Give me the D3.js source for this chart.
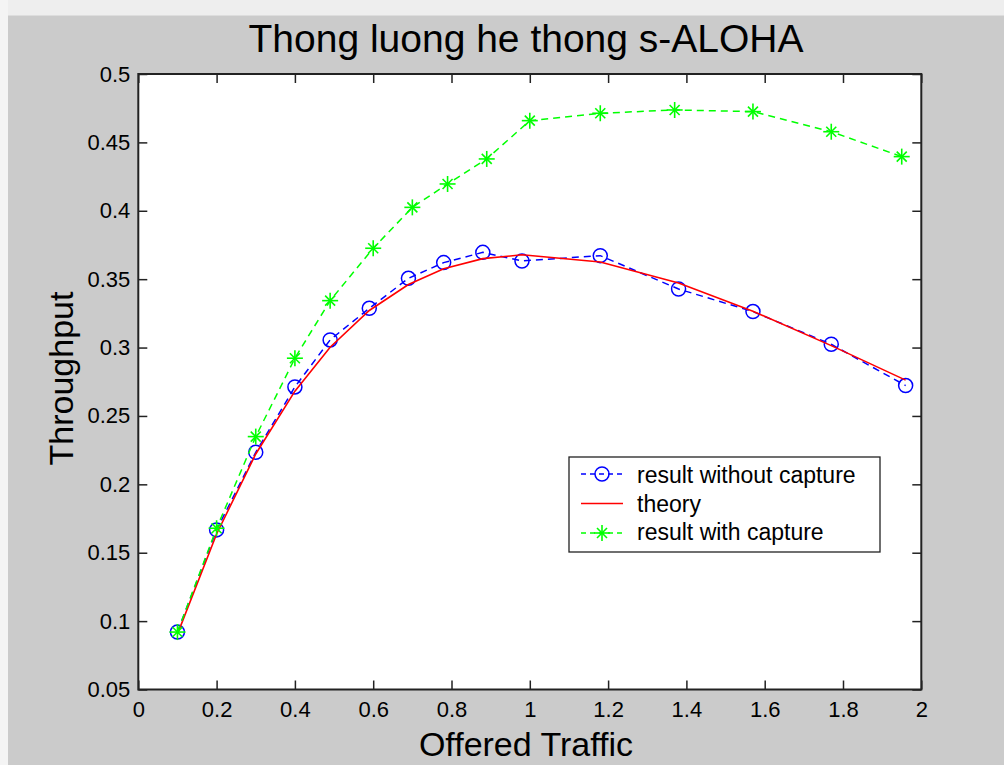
<!DOCTYPE html>
<html>
<head>
<meta charset="utf-8">
<script src="https://cdn.jsdelivr.net/npm/d3@7"></script>
<style>
  html, body { margin: 0; padding: 0; background: #cbcbcb; }
  svg { display: block; }
  text { font-family: "Liberation Sans", Arial, sans-serif; fill: #000; }
</style>
</head>
<body>
<script>
// ---- data ----
const gNoCapture = [0.1, 0.2, 0.3, 0.4, 0.49, 0.59, 0.69, 0.78, 0.88, 0.98, 1.18, 1.38, 1.57, 1.77, 1.96];
const sNoCapture = [0.092, 0.1667, 0.2234, 0.2712, 0.3056, 0.3287, 0.3506, 0.3621, 0.3696, 0.3633, 0.3672, 0.3428, 0.3263, 0.3024, 0.2722];
const gTheory = [0.1, 0.2, 0.3, 0.4, 0.49, 0.59, 0.69, 0.78, 0.88, 0.98, 1.18, 1.38, 1.57, 1.77, 1.96];
const sTheory = [0.0905, 0.1637, 0.2222, 0.2681, 0.3002, 0.3271, 0.3461, 0.3576, 0.3650, 0.3678, 0.3626, 0.3472, 0.3266, 0.3014, 0.2762];
const gCapture = [0.1, 0.2, 0.3, 0.4, 0.49, 0.6, 0.7, 0.79, 0.89, 1.0, 1.18, 1.37, 1.57, 1.77, 1.95];
const sCapture = [0.092, 0.1679, 0.2349, 0.2922, 0.3343, 0.3726, 0.4025, 0.4196, 0.4379, 0.4659, 0.4713, 0.4737, 0.4725, 0.4578, 0.4396];
const xTicks = [0, 0.2, 0.4, 0.6, 0.8, 1, 1.2, 1.4, 1.6, 1.8, 2];
const xTickLabels = ["0", "0.2", "0.4", "0.6", "0.8", "1", "1.2", "1.4", "1.6", "1.8", "2"];
const yTicks = [0.05, 0.1, 0.15, 0.2, 0.25, 0.3, 0.35, 0.4, 0.45, 0.5];
const yTickLabels = ["0.05", "0.1", "0.15", "0.2", "0.25", "0.3", "0.35", "0.4", "0.45", "0.5"];
const legendLabels = ["result without capture", "theory", "result with capture"];
const titleText = "Thong luong he thong s-ALOHA";
const xLabelText = "Offered Traffic";
const yLabelText = "Throughput";

// ---- layout ----
const W = 1004, H = 765;
const L = 138.3, R = 921.3, T = 74, B = 689.5;

const svg = d3.select("body").append("svg").attr("width", W).attr("height", H);
svg.append("rect").attr("width", W).attr("height", H).attr("fill", "#cbcbcb");
// window chrome strips
svg.append("rect").attr("x", 0).attr("y", 0).attr("width", W).attr("height", 15).attr("fill", "#eeeeee");
svg.append("rect").attr("x", 0).attr("y", 15).attr("width", W).attr("height", 1).attr("fill", "#dddddd");
svg.append("rect").attr("x", 0).attr("y", 0).attr("width", 8).attr("height", H).attr("fill", "#f4f4f4");

const x = d3.scaleLinear().domain([0, 2]).range([L, R]);
const y = d3.scaleLinear().domain([0.05, 0.5]).range([B, T]);

// plot background
svg.append("rect").attr("x", L).attr("y", T).attr("width", R - L).attr("height", B - T).attr("fill", "#fff");

// axes (ticks inward, on all four sides)
function styleAxis(g) {
  g.select(".domain").remove();
  g.selectAll(".tick line").attr("stroke", "#222").attr("stroke-width", 1.5);
  g.selectAll(".tick text").attr("font-size", 22).attr("font-family", '"Liberation Sans", Arial, sans-serif').attr("fill", "#111");
}
svg.append("g").attr("transform", `translate(0,${B})`)
  .call(d3.axisBottom(x).tickValues(xTicks).tickFormat((d, i) => xTickLabels[i]).tickSizeInner(-9).tickSizeOuter(0).tickPadding(12))
  .call(styleAxis);
svg.append("g").attr("transform", `translate(0,${T})`)
  .call(d3.axisTop(x).tickValues(xTicks).tickFormat("").tickSizeInner(-9).tickSizeOuter(0))
  .call(styleAxis);
svg.append("g").attr("transform", `translate(${L},0)`)
  .call(d3.axisLeft(y).tickValues(yTicks).tickFormat((d, i) => yTickLabels[i]).tickSizeInner(-9).tickSizeOuter(0).tickPadding(8))
  .call(styleAxis);
svg.append("g").attr("transform", `translate(${R},0)`)
  .call(d3.axisRight(y).tickValues(yTicks).tickFormat("").tickSizeInner(-9).tickSizeOuter(0))
  .call(styleAxis);

// frame
svg.append("rect").attr("x", L).attr("y", T).attr("width", R - L).attr("height", B - T)
  .attr("fill", "none").attr("stroke", "#222").attr("stroke-width", 2);

const line = d3.line().x(d => x(d[0])).y(d => y(d[1]));
const noCap = gNoCapture.map((g, i) => [g, sNoCapture[i]]);
const theory = gTheory.map((g, i) => [g, sTheory[i]]);
const cap = gCapture.map((g, i) => [g, sCapture[i]]);

const plot = svg.append("g");

// result without capture (blue dashed, circles)
plot.append("path").datum(noCap).attr("d", line).attr("fill", "none")
  .attr("stroke", "#0000ff").attr("stroke-width", 1.5).attr("stroke-dasharray", "7,5");
plot.selectAll("circle.nc").data(noCap).join("circle").attr("class", "nc")
  .attr("cx", d => x(d[0])).attr("cy", d => y(d[1])).attr("r", 7)
  .attr("fill", "none").attr("stroke", "#0000ff").attr("stroke-width", 1.5);

// theory (red solid)
plot.append("path").datum(theory).attr("d", line).attr("fill", "none")
  .attr("stroke", "#ff0000").attr("stroke-width", 1.6);

// with capture (green dashed, stars)
plot.append("path").datum(cap).attr("d", line).attr("fill", "none")
  .attr("stroke", "#00ff00").attr("stroke-width", 1.5).attr("stroke-dasharray", "7,5");

function star(g, cx, cy, color) {
  const a = 8, b = 5;
  const segs = [[-a, 0, a, 0], [0, -a, 0, a], [-b, -b, b, b], [-b, b, b, -b]];
  segs.forEach(s => g.append("line")
    .attr("x1", cx + s[0]).attr("y1", cy + s[1]).attr("x2", cx + s[2]).attr("y2", cy + s[3])
    .attr("stroke", color).attr("stroke-width", 1.6));
}
cap.forEach(d => star(plot, x(d[0]), y(d[1]), "#00ff00"));

// title & labels
svg.append("text").attr("x", 526).attr("y", 52).attr("text-anchor", "middle")
  .attr("font-size", 39).text(titleText);
svg.append("text").attr("x", 526).attr("y", 756).attr("text-anchor", "middle")
  .attr("font-size", 34).text(xLabelText);
svg.append("text").attr("transform", "translate(73,378.5) rotate(-90)").attr("text-anchor", "middle")
  .attr("font-size", 34).text(yLabelText);

// legend
const lg = svg.append("g");
lg.append("rect").attr("x", 569).attr("y", 457).attr("width", 311).attr("height", 95)
  .attr("fill", "#fff").attr("stroke", "#222").attr("stroke-width", 1.3);
const rowsY = [474, 503.5, 533];
const baseY = [483.3, 511.7, 540];
const styles = [
  { color: "#0000ff", dash: "5,4", marker: "circle" },
  { color: "#ff0000", dash: null, marker: null },
  { color: "#00ff00", dash: "5,4", marker: "star" }
];
legendLabels.forEach((lab, i) => {
  const s = styles[i];
  const ln = lg.append("line").attr("x1", 581).attr("x2", 623).attr("y1", rowsY[i]).attr("y2", rowsY[i])
    .attr("stroke", s.color).attr("stroke-width", 1.5);
  if (s.dash) ln.attr("stroke-dasharray", s.dash);
  if (s.marker === "circle") {
    lg.append("circle").attr("cx", 602).attr("cy", rowsY[i]).attr("r", 7)
      .attr("fill", "none").attr("stroke", s.color).attr("stroke-width", 1.5);
  } else if (s.marker === "star") {
    star(lg, 602, rowsY[i], s.color);
  }
  lg.append("text").attr("x", 637).attr("y", baseY[i]).attr("font-size", 23).text(lab);
});
</script>
</body>
</html>
